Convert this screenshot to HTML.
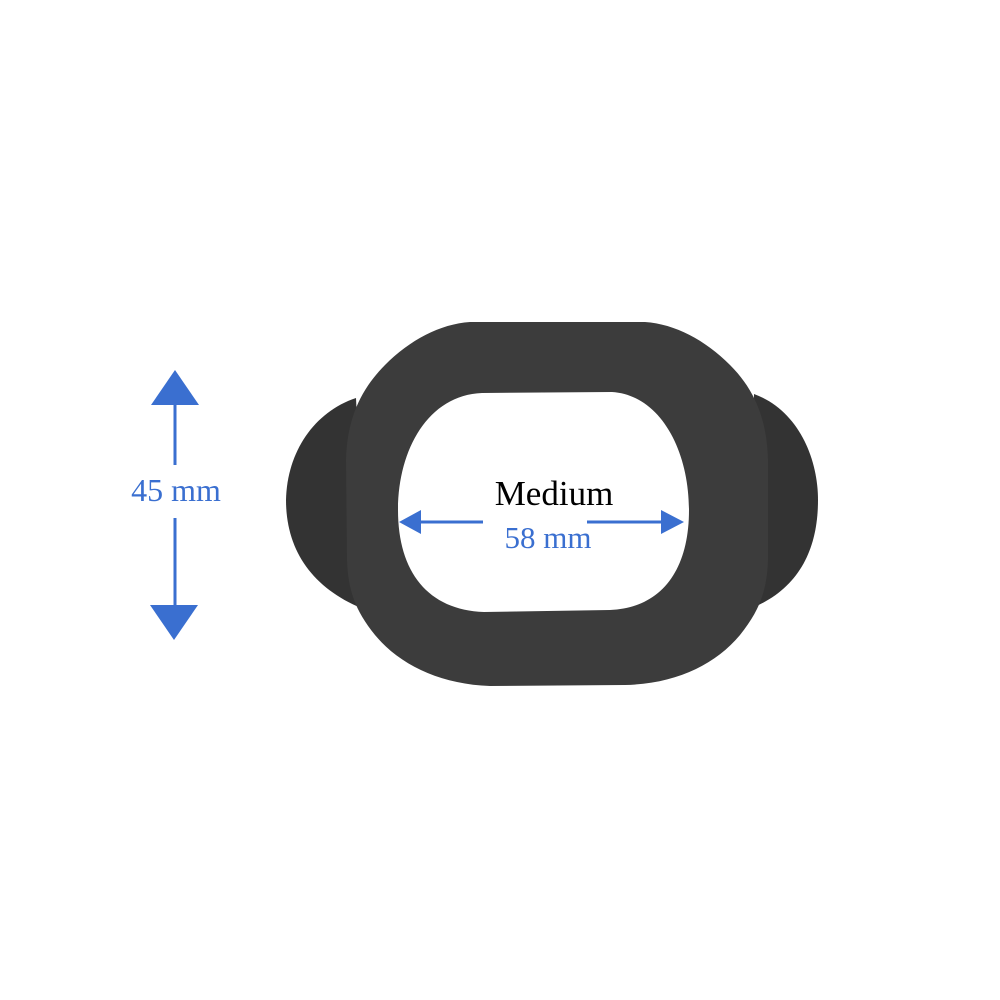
<!DOCTYPE html>
<html><head><meta charset="utf-8"><style>
html,body{margin:0;padding:0;background:#fff;}
svg{display:block;}
</style></head><body>
<svg width="1000" height="1000" viewBox="0 0 1000 1000" xmlns="http://www.w3.org/2000/svg">
<rect width="1000" height="1000" fill="#fff"/>
<!-- wings -->
<path d="M356,398 C314,412 287,452 286,500 C286,552 314,590 366,610 Z" fill="#333"/>
<path d="M754,394 C798,410 818,458 818,500 C818,548 800,588 752,608 Z" fill="#333"/>
<!-- ring -->
<path fill-rule="evenodd" fill="#3c3c3c" d="M470,322 L645,322 C675,324 705,340 730,365 C755,390 767,420 768,460 L768,560 C767,590 760,610 740,635 C715,665 675,684 625,685 L490,686 C440,684 400,665 375,635 C355,610 348,590 347,560 L346,460 C347,420 360,390 385,365 C410,340 440,324 470,322 Z
M482,393 L612,392 C660,395 689,450 689,510 C689,572 660,608 610,610 L484,612 C428,610 398,572 398,510 C398,450 428,395 482,393 Z"/>
<!-- horizontal arrow -->
<g fill="#3a6fd0" stroke="#3a6fd0">
<line x1="418" y1="522" x2="483" y2="522" stroke-width="3"/>
<polygon points="399,522 421,510 421,534" stroke="none"/>
<line x1="587" y1="522" x2="664" y2="522" stroke-width="3"/>
<polygon points="684,522 661,510 661,534" stroke="none"/>
<!-- vertical arrow -->
<line x1="175" y1="403" x2="175" y2="465" stroke-width="3"/>
<polygon points="175,370 151,405 199,405" stroke="none"/>
<line x1="175" y1="518" x2="175" y2="607" stroke-width="3"/>
<polygon points="174,640 150,605 198,605" stroke="none"/>
</g>
<text x="554" y="505" font-family="Liberation Serif, serif" font-size="35" fill="#000" text-anchor="middle">Medium</text>
<text x="548" y="548" font-family="Liberation Serif, serif" font-size="31" fill="#3a6fd0" text-anchor="middle">58 mm</text>
<text x="176" y="501" font-family="Liberation Serif, serif" font-size="32" fill="#3a6fd0" text-anchor="middle">45 mm</text>
</svg>
</body></html>
